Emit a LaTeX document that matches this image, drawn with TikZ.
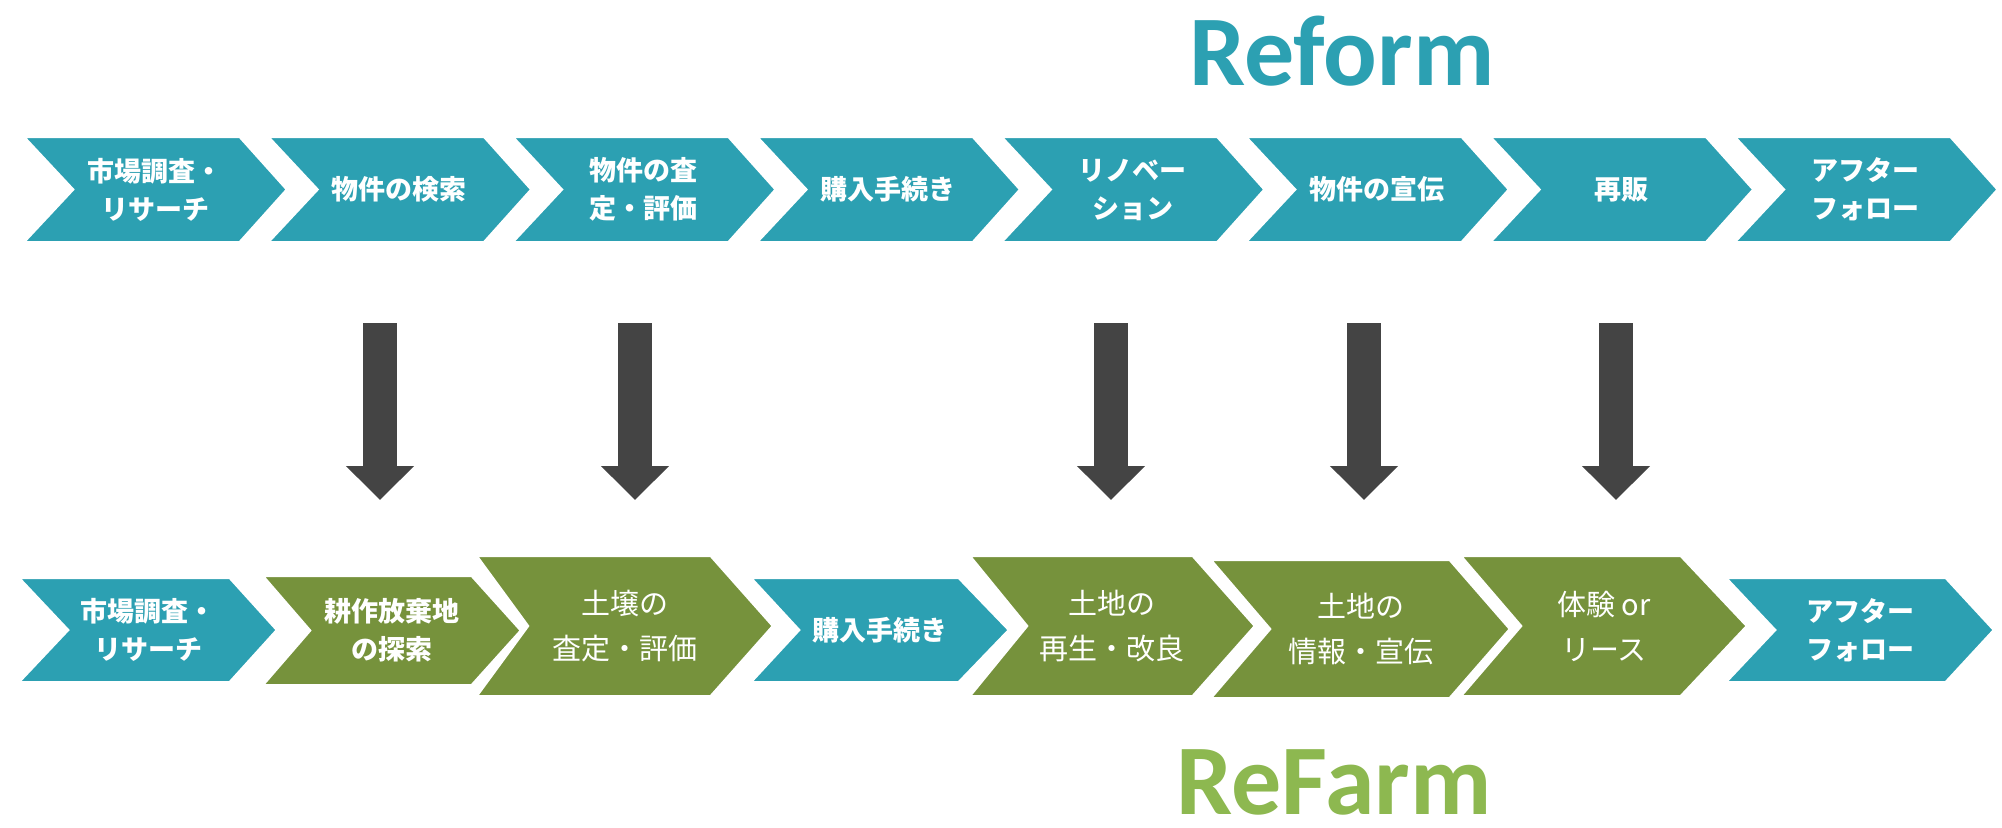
\documentclass[tikz,border=0pt]{standalone}
\usepackage{fontspec}
\newfontfamily\jp{Noto Sans CJK JP}
\newfontfamily\ttl{Carlito}
\usetikzlibrary{arrows.meta}
\definecolor{refteal}{HTML}{2CA0B2}
\definecolor{refgreen}{HTML}{76923C}
\definecolor{reflight}{HTML}{8DB850}
\definecolor{arrowgray}{HTML}{444444}
\tikzset{
  lbl/.style={text=white, align=center, inner sep=0pt, font=\jp\bfseries\fontsize{13.5pt}{19pt}\selectfont},
  lblg/.style={text=white, align=center, inner sep=0pt, font=\jp\fontsize{14.5pt}{22.5pt}\selectfont},
  chevfill/.style={fill=#1, draw=white, line width=2pt, line join=miter},
  downarrow/.style={draw=arrowgray, line width=17pt, -{Triangle[width=33pt,length=17pt]}},
  titletext/.style={font=\ttl\bfseries\fontsize{50pt}{60pt}\selectfont, anchor=base, inner sep=0pt, text depth=0pt}
}
% left, notch, top-right, tip, top y, bottom y, colour
\newcommand\chevshape[7]{\path[chevfill=#7] (#1,#5) -- (#3,#5) -- (#4,{(#5+#6)/2}) -- (#3,#6) -- (#1,#6) -- (#2,{(#5+#6)/2}) -- cycle;}
\begin{document}
\begin{tikzpicture}[x=0.5pt,y=-0.5pt]
\useasboundingbox (0,0) rectangle (2002,827);
\fill[white] (0,0) rectangle (2002,827);

% titles
\node[titletext, text=refteal] (reform) at (1342,85) {Reform};
\node[titletext, text=reflight] (refarm) at (1334,814) {ReFarm};

% top row
\chevshape{22}{72}{240}{288}{136}{243}{refteal}
\chevshape{266.4}{316.4}{484.4}{532.4}{136}{243}{refteal}
\chevshape{510.8}{560.8}{728.8}{776.8}{136}{243}{refteal}
\chevshape{755.2}{805.2}{973.2}{1021.2}{136}{243}{refteal}
\chevshape{999.6}{1049.6}{1217.6}{1265.6}{136}{243}{refteal}
\chevshape{1244}{1294}{1462}{1510}{136}{243}{refteal}
\chevshape{1488.4}{1538.4}{1706.4}{1754.4}{136}{243}{refteal}
\chevshape{1732.8}{1782.8}{1950.8}{1998.8}{136}{243}{refteal}

\node[lbl] (t1) at (155,189.5) {市場調査・\\リサーチ};
\node[lbl] (t2) at (399.4,189.5) {物件の検索};
\node[lbl] (t3) at (643.8,189.5) {物件の査\\定・評価};
\node[lbl] (t4) at (888.2,189.5) {購入手続き};
\node[lbl] (t5) at (1132.6,189.5) {リノベー\\ション};
\node[lbl] (t6) at (1377,189.5) {物件の宣伝};
\node[lbl] (t7) at (1621.4,189.5) {再販};
\node[lbl] (t8) at (1865.8,189.5) {アフター\\フォロー};

% bottom row
\chevshape{17}{67}{230}{278}{577}{683}{refteal}
\chevshape{261}{309}{472}{522}{575}{686}{refgreen}
\chevshape{475}{527}{711}{774}{555}{697}{refgreen}
\chevshape{749}{798}{959}{1010}{577}{683}{refteal}
\chevshape{968}{1026}{1193}{1256}{555}{697}{refgreen}
\chevshape{1209}{1269}{1450}{1511}{559}{699}{refgreen}
\chevshape{1459}{1520}{1681}{1748}{555}{697}{refgreen}
\chevshape{1724}{1774}{1946}{1995}{577}{683}{refteal}

\node[lbl] (b1) at (148,630) {市場調査・\\リサーチ};
\node[lbl] (b2) at (392,630) {耕作放棄地\\の探索};
\node[lblg] (b3) at (625,626) {土壌の\\査定・評価};
\node[lbl] (b4) at (880,630) {購入手続き};
\node[lblg] (b5) at (1112,626) {土地の\\再生・改良};
\node[lblg] (b6) at (1361,629) {土地の\\情報・宣伝};
\node[lblg] (b7) at (1604,626) {体験 or\\リース};
\node[lbl] (b8) at (1860,630) {アフター\\フォロー};

% down arrows
\foreach \k/\x in {1/380,2/635,3/1111,4/1364,5/1616}{
  \coordinate (s\k) at (\x,323);
  \coordinate (e\k) at (\x,500);
  \draw[downarrow] (s\k) -- (e\k);
}
\end{tikzpicture}
\end{document}
